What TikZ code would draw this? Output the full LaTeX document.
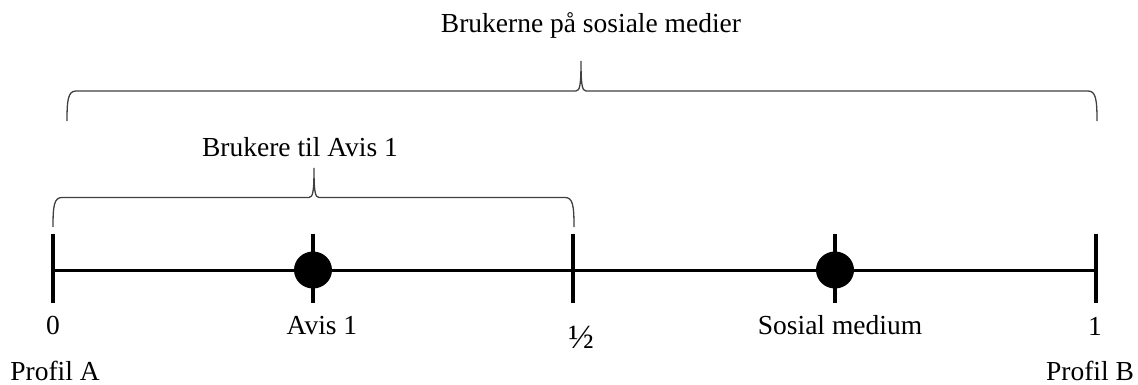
\documentclass[tikz,border=0pt]{standalone}
\usepackage{fontspec}
\setmainfont{Liberation Serif}
\begin{document}
\begin{tikzpicture}[x=1pt,y=-1pt,
  lbl/.style={anchor=base,inner sep=0pt,font=\fontsize{27.5}{32}\selectfont},
  axis/.style={line width=3pt,black},
  tickmark/.style={line width=3.6pt,black},
  bracepath/.style={line width=1.3pt,black!75}]
\useasboundingbox (0,0) rectangle (1138,385);
% axis
\coordinate (a0) at (53,270);
\coordinate (ah) at (573,270);
\coordinate (a1) at (1096,270);
\draw[axis] (a0) -- (a1);
% ticks
\coordinate (t0a) at (53,234); \coordinate (t0b) at (53,303);
\coordinate (tha) at (573,234); \coordinate (thb) at (573,303);
\coordinate (t1a) at (1096,234); \coordinate (t1b) at (1096,303);
\coordinate (tpa) at (313,234); \coordinate (tpb) at (313,303);
\coordinate (tsa) at (835,234); \coordinate (tsb) at (835,303);
\draw[tickmark] (t0a) -- (t0b);
\draw[tickmark] (tha) -- (thb);
\draw[tickmark] (t1a) -- (t1b);
\draw[tickmark] (tpa) -- (tpb);
\draw[tickmark] (tsa) -- (tsb);
% dots
\fill (313,270) ellipse [x radius=19, y radius=18.5];
\fill (835,270) ellipse [x radius=19, y radius=18.5];
% lower brace
\coordinate (lbl) at (53,227);
\coordinate (lbr) at (574,227);
\coordinate (lbt) at (314,168);
\draw[bracepath] (lbl) .. controls (53,206) and (54,197.5) .. (62,197.5)
  -- (309,197.5) .. controls (313,197.5) and (314,191) .. (lbt)
  .. controls (314,191) and (315,197.5) .. (319,197.5)
  -- (565,197.5) .. controls (573,197.5) and (574,206) .. (lbr);
% upper brace
\coordinate (ubl) at (67,121);
\coordinate (ubr) at (1097,121);
\coordinate (ubt) at (581,61);
\draw[bracepath] (ubl) .. controls (67,100) and (68,91) .. (76,91)
  -- (576,91) .. controls (580,91) and (581,84) .. (ubt)
  .. controls (581,84) and (582,91) .. (586,91)
  -- (1088,91) .. controls (1096,91) and (1097,100) .. (ubr);
% labels
\node[lbl] (ttop) at (591,33) {Brukerne på sosiale medier};
\node[lbl] (tmid) at (300,157) {Brukere til Avis 1};
\node[lbl] (l0) at (53,334) {0};
\node[lbl] (lavis) at (322,334) {Avis 1};
\node[lbl,font=\fontsize{34}{40}\selectfont] (lhalf) at (581,348) {½};
\node[lbl] (lsos) at (840,334) {Sosial medium};
\node[lbl] (l1) at (1095,335) {1};
\node[lbl] (lpa) at (55,380) {Profil A};
\node[lbl] (lpb) at (1090,380) {Profil B};
\end{tikzpicture}
\end{document}
